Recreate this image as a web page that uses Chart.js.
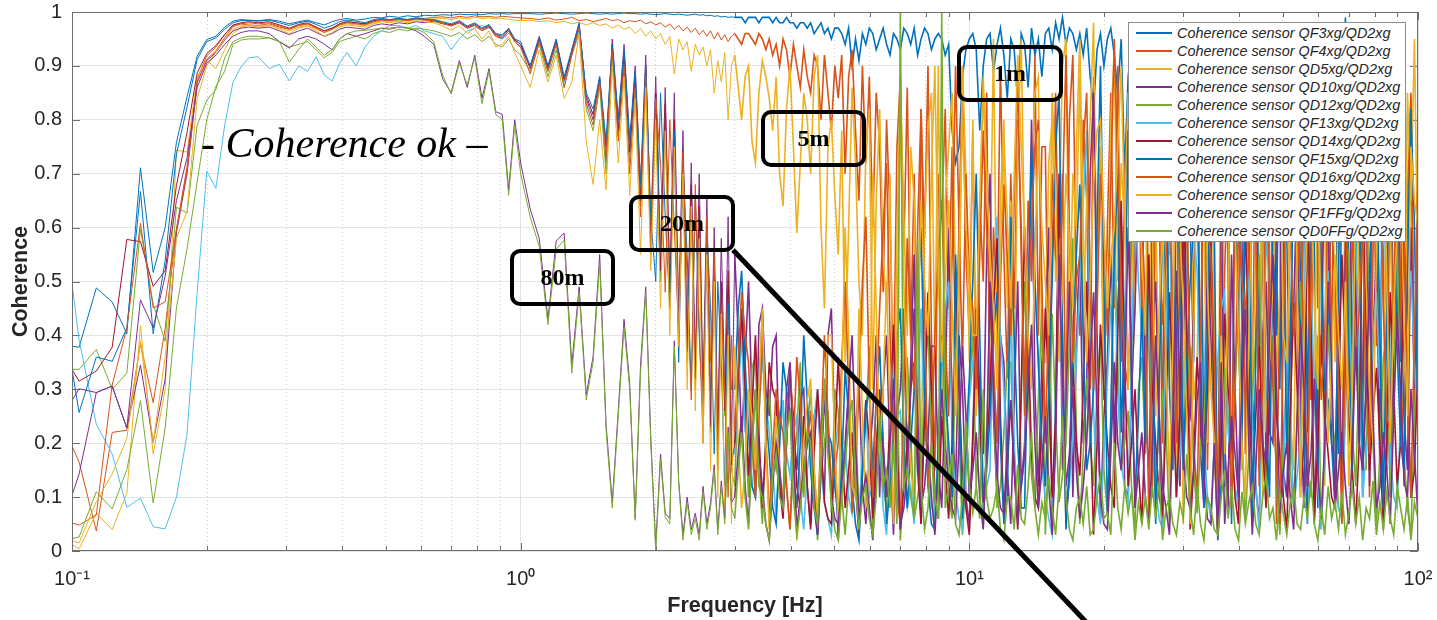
<!DOCTYPE html>
<html lang="en">

<head>
    <meta charset="UTF-8">
    <title>Coherence sensors vs QD2xg</title>
    <script src="https://cdn.jsdelivr.net/npm/chart.js"></script>
    <style>
        body { margin: 0; background: #fff; }
        .wrap { position: relative; width: 1437px; height: 620px; overflow: hidden; }
        #coherenceChart { position: absolute; left: 0; top: 0; }
        .legend-box {
            position: absolute; left: 1128px; top: 22px; width: 278px; height: 220px;
            box-sizing: border-box; border: 1px solid #8c8c8c; background: #fff; padding-top: 1px;
        }
        .legend-row { height: 18px; display: flex; align-items: center; }
        .legend-swatch { display: inline-block; width: 36px; height: 1.5px; margin-left: 7px; }
        .legend-text {
            margin-left: 5px; font: italic 14.4px "Liberation Sans", Arial, sans-serif;
            color: #262626; white-space: nowrap;
        }
        .tag {
            position: absolute; box-sizing: border-box; border: 4px solid #000; border-radius: 10px;
            display: flex; align-items: center; justify-content: center;
            font: bold 24px "Liberation Serif", "Times New Roman", serif; color: #000;
        }
        .ok-note {
            position: absolute; left: 201px; top: 119px; line-height: 42px; white-space: nowrap;
            font: italic 42px "Liberation Serif", "Times New Roman", serif; color: #000;
        }
        .pointer { position: absolute; left: 0; top: 0; }
    </style>
</head>

<body>
    <div class="wrap">
        <canvas id="coherenceChart" width="1437" height="620"></canvas>

        <!-- annotations -->
        <div class="ok-note">- Coherence ok –</div>
        <div class="tag" style="left:957px;top:45px;width:106px;height:57px;">1m</div>
        <div class="tag" style="left:761px;top:110px;width:105px;height:57px;">5m</div>
        <div class="tag" style="left:629px;top:195px;width:106px;height:57px;">20m</div>
        <div class="tag" style="left:510px;top:249px;width:105px;height:57px;">80m</div>
        <svg class="pointer" width="1437" height="620">
            <line x1="733" y1="250" x2="1088" y2="624" stroke="#000" stroke-width="5" />
        </svg>

        <div class="legend-box" id="legendBox"></div>
    </div>

    <script>
        // frequency samples [Hz]
        const freqLow = [0.1, 0.1037, 0.1133, 0.1229, 0.1325, 0.1421, 0.1517, 0.1613, 0.1709, 0.1805,
            0.1901, 0.1997, 0.2093, 0.2189, 0.2285, 0.2381, 0.2477];
        const freqMid = [0.26, 0.275, 0.29, 0.305, 0.32, 0.335, 0.35, 0.365, 0.38, 0.395,
            0.41, 0.43, 0.45, 0.47, 0.49, 0.51, 0.535, 0.56, 0.585, 0.61,
            0.64, 0.67, 0.7, 0.73, 0.76, 0.79, 0.82, 0.85, 0.88, 0.91, 0.94, 0.97, 1.0];
        const freqDrop = [1.05, 1.1, 1.15, 1.2, 1.25, 1.3, 1.35, 1.4, 1.45, 1.5,
            1.55, 1.6, 1.65, 1.7, 1.75, 1.8, 1.85, 1.9, 1.95, 2,
            2.05, 2.1, 2.15, 2.2, 2.25, 2.3, 2.35, 2.4, 2.45, 2.5,
            2.55, 2.6, 2.65, 2.7, 2.75, 2.8, 2.85, 2.9, 2.95];
        const freqHigh = [
            3, 3.054, 3.108, 3.164, 3.22, 3.278, 3.336, 3.396, 3.457, 3.519,
            3.581, 3.645, 3.71, 3.777, 3.844, 3.913, 3.983, 4.054, 4.126, 4.2,
            4.275, 4.352, 4.429, 4.509, 4.589, 4.671, 4.754, 4.84, 4.926, 5.014,
            5.103, 5.195, 5.287, 5.382, 5.478, 5.576, 5.675, 5.777, 5.88, 5.986,
            6.092, 6.201, 6.311, 6.425, 6.539, 6.657, 6.775, 6.897, 7.019, 7.145,
            7.272, 7.403, 7.534, 7.67, 7.806, 7.946, 8.087, 8.233, 8.379, 8.529,
            8.68, 8.836, 8.993, 9.155, 9.318, 9.485, 9.653, 9.826, 10, 10.18,
            10.36, 10.55, 10.74, 10.93, 11.12, 11.32, 11.53, 11.73, 11.94, 12.15,
            12.37, 12.59, 12.82, 13.05, 13.28, 13.52, 13.76, 14, 14.25, 14.51,
            14.77, 15.03, 15.3, 15.57, 15.85, 16.13, 16.42, 16.71, 17.01, 17.32,
            17.63, 17.94, 18.26, 18.59, 18.92, 19.26, 19.6, 19.95, 20.31, 20.67,
            21.04, 21.42, 21.8, 22.19, 22.59, 22.99, 23.4, 23.82, 24.24, 24.68,
            25.12, 25.57, 26.02, 26.49, 26.96, 27.44, 27.93, 28.43, 28.94, 29.46,
            29.98, 30.52, 31.06, 31.62, 32.18, 32.76, 33.34, 33.94, 34.54, 35.16,
            35.79, 36.43, 37.08, 37.74, 38.41, 39.1, 39.8, 40.51, 41.23, 41.97,
            42.72, 43.49, 44.26, 45.05, 45.85, 46.67, 47.5, 48.36, 49.22, 50.1,
            50.99, 51.91, 52.83, 53.78, 54.73, 55.71, 56.7, 57.72, 58.75, 59.8,
            60.86, 61.96, 63.06, 64.19, 65.33, 66.5, 67.68, 68.9, 70.12, 71.38,
            72.65, 73.96, 75.27, 76.62, 77.98, 79.38, 80.79, 82.24, 83.7, 85.21,
            86.72, 88.28, 89.84, 91.46, 93.08, 94.75, 96.43, 98.2, 100];
        const freq = [...freqLow, ...freqMid, ...freqDrop, ...freqHigh];

        const sensorNames = ['QF3xg', 'QF4xg', 'QD5xg', 'QD10xg', 'QD12xg', 'QF13xg',
            'QD14xg', 'QF15xg', 'QD16xg', 'QD18xg', 'QF1FFg', 'QD0FFg'];
        const seriesColors = ['#0072BD', '#D95319', '#EDB120', '#7E2F8E', '#77AC30', '#4DBEEE',
            '#A2142F', '#0072BD', '#D95319', '#EDB120', '#7E2F8E', '#77AC30'];

        // coherence per sensor in %, same order as freq
        const qf3xg = [
            38, 37.8, 48.8, 46.2, 40.3, 71.1, 51.7, 60, 75.8, 84.3, 91.8, 94.9, 95.5, 97.2, 98.3, 98.6, 98.5,
            98.4, 98.6, 98.3, 97.8, 98.2, 98.5, 98, 97.6, 98.2, 98.6, 98.8, 98.5, 98.7, 99, 98.9, 99.2, 99, 99.3, 99.1, 99.4,
            99.3, 99.5, 99.4, 99.6, 99.5, 99.6, 99.5, 99.7, 99.6, 99.7, 99.6, 99.7, 99.7,
            99.7, 99.6, 99.7, 99.8, 99.7, 99.6, 99.7, 99.8, 99.7, 99.6, 99.7, 99.6, 99.7, 99.8, 99.7, 99.7, 99.6, 99.7, 99.6, 99.5,
            99.6, 99.7, 99.6, 99.5, 99.6, 99.5, 99.4, 99.5, 99.6, 99.4, 99.5, 99.3, 99.4, 99.2, 99.3, 99.1, 99.2, 99, 99.1,
            99, 99, 99, 98, 99, 99, 99, 98, 99, 99,
            99, 98, 99, 98, 98, 99, 98, 98, 97, 98,
            98, 97, 98, 96, 97, 98, 96, 97, 95, 97,
            97, 96, 94, 97, 90, 95, 91, 96, 94, 97,
            96, 93, 95, 97, 94, 92, 96, 95, 93, 97,
            96, 94, 97, 92, 95, 97, 96, 93, 95, 96,
            95, 92, 94, 78, 72, 75, 88, 93, 95, 96,
            93, 78, 90, 95, 96, 89, 94, 97, 92, 84,
            95, 93, 83, 96, 94, 86, 97, 92, 95, 88,
            96, 97, 93, 98, 95, 99, 94, 97, 96, 93,
            96, 92, 97, 88, 82, 93, 96, 90, 95, 97,
            92, 85, 95, 70, 88, 93, 65, 90, 96, 82,
            88, 40, 92, 70, 20, 85, 55, 96, 30, 75,
            10, 90, 60, 35, 95, 80, 15, 70, 98, 45,
            3, 25, 92, 60, 5, 78, 96, 40, 88, 20,
            70, 95, 35, 85, 12, 65, 98, 50, 30, 90,
            60, 15, 88, 97, 45, 75, 22, 92, 55, 8,
            80, 96, 38, 68, 90, 18, 72, 99, 50, 28,
            94, 62, 10, 85, 42, 97, 70, 25, 88, 56,
            15, 90, 72, 35, 96, 58, 84, 30, 62
        ];
        const qf4xg = [
            19.5, 16.5, 3.7, 22, 22.4, 38.5, 27.5, 41.4, 59.7, 71.4, 87.6, 91.9, 93.5, 95.8, 97.5, 97.8, 97.6,
            97.5, 97.8, 97.2, 96.8, 97.5, 97.8, 97.2, 96.5, 97, 97.8, 98.2, 98, 97.8, 98.3, 98.6, 98.5, 98.8, 98.6, 98.9, 98.8,
            99, 99.1, 98.9, 99.2, 99, 99.3, 99.1, 99.2, 99, 99.2, 99.1, 99, 98.9,
            98.8, 98.6, 98.9, 98.5, 98.7, 99, 98.4, 98.6, 98.2, 98.5, 98.8, 98.4, 98.6, 98, 98.4, 98.2, 98.5, 97.8, 98.2, 97.6,
            98, 97.2, 97.8, 96.8, 97.5, 96.5, 97.2, 96.2, 97, 95.8, 96.6, 95.5, 96.5, 95, 96.2, 94.8, 95.8, 94.5, 95.5,
            96, 95, 94, 96, 96, 95, 94, 96, 95, 93,
            95, 92, 94, 90, 95, 93, 88, 94, 90, 86,
            93, 88, 85, 92, 90, 80, 92, 85, 78, 90,
            84, 92, 70, 88, 93, 78, 65, 90, 72, 88,
            60, 85, 75, 48, 80, 62, 30, 75, 88, 55,
            86, 40, 70, 25, 82, 58, 90, 40, 15, 70,
            62, 82, 45, 75, 35, 60, 90, 55, 40, 78,
            30, 65, 50, 85, 25, 60, 45, 90, 55, 32,
            70, 45, 80, 60, 28, 65, 50, 92, 40, 75,
            75, 30, 55, 85, 45, 70, 25, 80, 92, 50,
            40, 80, 65, 30, 88, 50, 75, 28, 60, 85,
            45, 90, 35, 70, 82, 25, 60, 78, 40, 88,
            40, 10, 68, 85, 20, 55, 95, 30, 72, 12,
            62, 85, 5, 45, 78, 28, 90, 15, 58, 35,
            4, 20, 52, 75, 8, 66, 40, 95, 18, 60,
            30, 82, 12, 58, 92, 35, 70, 5, 48, 85,
            22, 65, 90, 40, 10, 75, 55, 28, 88, 45,
            68, 15, 80, 35, 95, 50, 8, 72, 25, 60,
            45, 90, 20, 62, 10, 85, 38, 70, 55, 15,
            78, 30, 95, 48, 12, 66, 85, 22, 58
        ];
        const qd5xg = [
            1.2, 0.4, 7, 4, 10.7, 41.8, 18, 30, 74.4, 74, 88, 91.1, 89.5, 93, 96, 97.2, 97.5,
            97.2, 97.5, 97, 96.5, 97.2, 97.5, 96.8, 96.2, 96.8, 97.5, 97.8, 97.6, 97.5, 98, 98.3, 98.2, 98.5, 98.3, 98.6, 98.5,
            98.7, 98.8, 98.6, 98.9, 98.7, 99, 98.8, 98.9, 98.7, 98.8, 98.6, 98.5, 98.4,
            98.5, 98.2, 98.4, 98, 98.3, 97.8, 98.1, 97.6, 98, 97.5, 97.8, 97, 97.6, 96.8, 97.2, 96, 97, 95.5, 96.5, 95,
            96, 94, 95.5, 88.5, 95, 93, 94.5, 89, 94, 92, 93.5, 90, 93, 85, 91, 87, 92.5, 80, 90,
            92, 86, 80, 88, 90, 76, 72, 85, 91, 88,
            84, 78, 88, 70, 64, 82, 90, 75, 59, 72,
            85, 80, 70, 88, 92, 60, 45, 75, 80, 66,
            55, 78, 35, 60, 86, 72, 50, 40, 75, 82,
            30, 65, 82, 55, 45, 70, 20, 58, 88, 62,
            40, 75, 65, 28, 15, 60, 78, 85, 35, 90,
            30, 65, 75, 85, 50, 40, 90, 70, 35, 80,
            25, 60, 85, 70, 50, 95, 35, 65, 80, 45,
            65, 30, 75, 95, 55, 40, 70, 85, 88, 35,
            35, 72, 80, 50, 60, 90, 95, 40, 70, 60,
            88, 40, 65, 80, 98, 45, 75, 30, 35, 80,
            92, 50, 72, 60, 85, 30, 45, 90, 96, 65,
            40, 75, 70, 18, 95, 50, 30, 82, 10, 62,
            5, 58, 90, 28, 35, 70, 60, 20, 85, 45,
            2, 95, 20, 42, 95, 68, 40, 15, 70, 88,
            30, 55, 88, 10, 60, 92, 85, 30, 50, 72,
            88, 25, 15, 68, 60, 90, 95, 40, 25, 80,
            50, 12, 75, 92, 35, 65, 85, 55, 20, 70,
            92, 45, 60, 28, 80, 95, 70, 40, 15, 88,
            60, 30, 92, 75, 20, 85, 65, 95, 48
        ];
        const qd10xg = [
            10.3, 14.3, 29.4, 30.6, 22.8, 34.5, 20.2, 31.9, 59, 70, 87, 91, 92.5, 94.8, 96.5, 97, 97.2,
            97, 97.2, 96.5, 95.8, 96.5, 97, 96.2, 95.5, 96, 96.8, 97.2, 97, 96.8, 97.5, 97.8, 97.6, 98, 97.8, 98.2, 98,
            98.3, 97.8, 97.5, 98, 97, 97.5, 96.5, 97.2, 95.5, 95, 96.5, 94.5, 93.5,
            90, 95.5, 90, 95, 87, 93, 98, 84, 80, 88, 72, 95, 80, 94, 76, 90, 68, 92, 60, 88,
            55, 86, 50, 85, 45, 78, 40, 72, 35, 70, 30, 66, 28, 60, 22, 58, 30, 62, 20,
            55, 40, 20, 35, 50, 28, 12, 42, 45, 30,
            25, 38, 40, 15, 8, 30, 35, 22, 15, 28,
            30, 12, 5, 25, 28, 18, 10, 40, 45, 20,
            2, 15, 20, 30, 8, 22, 32, 12, 5, 18,
            25, 40, 10, 30, 40, 18, 3, 25, 30, 45,
            15, 35, 55, 20, 5, 28, 20, 38, 38, 15,
            8, 30, 60, 25, 12, 40, 30, 10, 5, 22,
            45, 30, 18, 55, 70, 25, 10, 40, 35, 15,
            5, 28, 50, 12, 20, 45, 80, 30, 12, 35,
            40, 60, 3, 22, 65, 15, 25, 50, 10, 38,
            55, 20, 30, 70, 85, 40, 6, 25, 35, 55,
            20, 45, 60, 12, 10, 30, 45, 70, 75, 25,
            15, 40, 50, 22, 5, 35, 70, 90, 30, 12,
            60, 28, 25, 45, 90, 18, 8, 55, 40, 20,
            3, 65, 20, 8, 55, 30, 10, 45, 75, 35,
            30, 12, 5, 40, 50, 22, 20, 60, 65, 15,
            10, 38, 45, 70, 25, 8, 80, 50, 5, 30,
            35, 75, 60, 20, 15, 45, 8, 55, 90, 28,
            50, 20, 30, 65, 12, 40, 55, 15, 85, 45,
            10, 35, 40, 70, 25, 15, 60, 30, 45
        ];
        const qd12xg = [
            33.7, 33.7, 37.4, 30, 33, 59.7, 45.8, 38.9, 63.8, 62.7, 79, 83.6, 85.6, 91.5, 94.5, 95.2, 95.5,
            95.5, 95.2, 94.5, 93.5, 94, 94.5, 93, 91.5, 92.5, 94.5, 95, 95.5, 95, 96, 96.5, 96.2, 96.8, 96.5, 97, 96.8,
            96.5, 96, 95.5, 96.2, 95, 95.8, 94.5, 95.5, 94, 93.5, 95, 93, 92,
            89, 94, 88, 93, 86, 92, 96, 82, 78, 86, 70, 92, 77, 90, 72, 86, 64, 88, 55, 82,
            50, 80, 46, 78, 40, 72, 35, 65, 30, 62, 25, 58, 22, 50, 18, 48, 25, 50, 15,
            12, 30, 42, 25, 10, 34, 36, 15, 5, 22,
            30, 18, 15, 25, 27, 12, 4, 16, 22, 35,
            10, 22, 30, 12, 2, 14, 20, 26, 7, 30,
            26, 10, 3, 12, 18, 25, 6, 15, 24, 38,
            4, 20, 28, 12, 8, 16, 20, 32, 2, 14,
            36, 22, 6, 10, 15, 30, 42, 20, 5, 16,
            24, 40, 10, 6, 38, 22, 3, 14, 30, 40,
            12, 25, 5, 20, 46, 30, 8, 12, 22, 35,
            35, 18, 6, 28, 50, 30, 14, 8, 28, 45,
            3, 20, 44, 25, 9, 14, 20, 38, 58, 22,
            5, 18, 32, 20, 12, 30, 40, 15, 7, 22,
            62, 35, 15, 20, 26, 12, 4, 30, 36, 18,
            48, 20, 9, 12, 30, 22, 5, 38, 52, 25,
            16, 30, 38, 15, 7, 20, 24, 40, 60, 18,
            4, 12, 34, 25, 13, 30, 45, 20, 6, 18,
            28, 40, 55, 22, 10, 30, 40, 12, 3, 20,
            32, 15, 8, 25, 50, 30, 15, 10, 28, 40,
            4, 18, 42, 25, 20, 8, 6, 30, 56, 22,
            12, 35, 30, 15, 48, 20, 5, 18, 36, 40,
            10, 28, 60, 22, 18, 8, 3, 25, 40
        ];
        const qf13xg = [
            49.5, 39.2, 23.5, 18, 8.1, 9.8, 4.5, 4.1, 10, 21.7, 48, 70.5, 67.3, 79, 87, 89.8, 91.5,
            91.7, 89.5, 90.3, 87.2, 90, 89, 91.7, 88.3, 87.2, 90.5, 92.5, 90, 93.5, 95.5, 96.5, 97.5, 97.5, 97, 97.5, 96.5,
            96, 95.5, 93, 95, 96.5, 97, 97.5, 97, 96, 95, 96, 95, 94,
            90, 94.5, 89, 94, 87, 92, 96.5, 83, 81, 87, 74, 93, 79, 90, 73, 87, 66, 86, 60, 84,
            52, 78, 50, 74, 42, 70, 38, 62, 33, 60, 28, 55, 24, 50, 20, 45, 28, 42, 18,
            18, 30, 40, 22, 30, 12, 10, 25, 36, 28,
            22, 15, 6, 20, 28, 18, 14, 22, 25, 10,
            4, 15, 20, 25, 30, 15, 9, 6, 3, 18,
            24, 12, 20, 10, 7, 18, 5, 20, 28, 10,
            12, 20, 22, 8, 3, 18, 35, 25, 26, 15,
            8, 12, 5, 30, 45, 22, 18, 8, 7, 20,
            33, 45, 50, 20, 11, 6, 4, 16, 28, 35,
            40, 20, 8, 12, 15, 45, 62, 40, 30, 12,
            45, 20, 6, 12, 17, 40, 70, 50, 35, 15,
            10, 6, 3, 30, 58, 25, 8, 12, 22, 35,
            50, 65, 78, 40, 26, 10, 5, 18, 32, 45,
            55, 30, 16, 12, 9, 35, 68, 50, 40, 20,
            46, 30, 12, 6, 4, 40, 62, 35, 10, 18,
            27, 50, 80, 60, 52, 30, 20, 10, 6, 20,
            36, 45, 48, 22, 17, 12, 8, 40, 66, 45,
            25, 12, 4, 30, 58, 50, 44, 28, 16, 10,
            40, 25, 8, 14, 20, 45, 72, 50, 30, 12,
            4, 20, 52, 30, 12, 8, 6, 25, 44, 30,
            60, 35, 10, 18, 25, 40, 48, 30, 76, 40,
            18, 10, 8, 25, 36, 45, 52, 35, 22
        ];
        const qd14xg = [
            33.7, 31.5, 33.4, 37.8, 57.8, 57.4, 49.1, 52, 67.8, 77.7, 88.7, 92.3, 93.8, 95.8, 97.6, 98, 98.2,
            98, 98.2, 97.6, 97, 97.7, 98, 97.2, 96.5, 97, 97.8, 98.2, 98, 97.8, 98.4, 98.6, 98.5, 98.7, 98.5, 98.8, 98.6,
            98.5, 98, 97.6, 98.2, 97.2, 97.8, 96.8, 97.5, 95.8, 95.5, 96.8, 94.8, 94,
            89.5, 95, 89.5, 94.5, 87.5, 92.5, 97.5, 84.5, 81, 87.5, 75, 94, 78, 92, 74, 88, 65, 90, 58, 85,
            52, 83, 48, 80, 42, 74, 37, 68, 32, 64, 27, 60, 23, 55, 20, 50, 26, 52, 16,
            20, 32, 45, 30, 14, 26, 40, 22, 8, 20,
            35, 30, 28, 12, 6, 20, 32, 25, 12, 8,
            25, 12, 4, 18, 30, 20, 9, 6, 5, 20,
            36, 20, 8, 15, 22, 12, 3, 14, 28, 20,
            6, 18, 30, 20, 10, 25, 42, 20, 4, 12,
            20, 30, 35, 15, 5, 25, 48, 30, 10, 6,
            25, 15, 6, 20, 52, 30, 14, 8, 3, 20,
            40, 25, 9, 18, 30, 45, 58, 25, 6, 15,
            28, 15, 4, 30, 60, 40, 18, 10, 8, 25,
            45, 30, 10, 25, 70, 40, 5, 15, 35, 20,
            14, 30, 50, 25, 3, 20, 42, 30, 20, 12,
            8, 40, 65, 35, 12, 20, 30, 15, 5, 25,
            55, 30, 20, 10, 7, 25, 48, 30, 10, 25,
            72, 40, 4, 15, 36, 25, 15, 30, 58, 25,
            6, 20, 44, 30, 22, 10, 5, 35, 62, 30,
            12, 25, 38, 20, 8, 30, 50, 25, 18, 10,
            4, 25, 46, 30, 12, 20, 66, 40, 6, 20,
            40, 25, 18, 10, 8, 30, 55, 35, 24, 15,
            5, 20, 70, 40, 15, 25, 34, 20, 4, 20,
            48, 30, 12, 20, 60, 30, 10, 15, 35
        ];
        const qf15xg = [
            33.7, 25.7, 36, 35.2, 41.4, 66.7, 40.3, 53.9, 73.6, 82.4, 91.2, 94.5, 95.2, 96.8, 98, 98.4, 98.4,
            98.3, 98.5, 98, 97.5, 98, 98.3, 97.7, 97, 97.5, 98.2, 98.5, 98.3, 98, 98.6, 98.8, 98.6, 98.8, 98.6, 98.9, 98.7,
            98.6, 98.2, 97.8, 98.4, 97.4, 98, 97, 97.7, 96, 95.8, 97, 95, 94.5,
            90, 95.2, 90, 94.8, 88, 93, 97.8, 85, 82, 88, 76, 94, 80, 93, 76, 89, 68, 90, 62, 50,
            85, 62, 45, 78, 35, 72, 55, 30, 66, 40, 25, 60, 45, 18, 50, 35, 12, 46, 30,
            30, 45, 52, 35, 22, 12, 10, 30, 44, 25,
            18, 8, 5, 20, 35, 30, 26, 15, 8, 20,
            40, 28, 15, 8, 3, 18, 30, 22, 20, 12,
            6, 15, 34, 25, 12, 5, 2, 15, 26, 30,
            15, 28, 38, 20, 5, 12, 22, 40, 45, 20,
            8, 20, 30, 45, 60, 30, 12, 5, 4, 20,
            40, 30, 20, 10, 55, 35, 6, 20, 32, 50,
            70, 40, 10, 15, 25, 40, 48, 20, 5, 10,
            62, 40, 20, 8, 8, 40, 75, 50, 35, 20,
            12, 30, 50, 75, 85, 40, 4, 15, 40, 55,
            68, 40, 15, 20, 30, 60, 90, 50, 7, 25,
            55, 70, 22, 40, 78, 30, 10, 25, 45, 20,
            88, 50, 5, 30, 60, 80, 30, 15, 95, 55,
            15, 35, 50, 60, 72, 30, 8, 40, 82, 60,
            2, 12, 12, 50, 92, 70, 40, 20, 66, 80,
            6, 35, 85, 60, 25, 10, 58, 40, 94, 60,
            18, 40, 70, 50, 42, 20, 5, 60, 90, 75,
            55, 30, 28, 20, 8, 50, 88, 70, 38, 15,
            60, 80, 15, 30, 48, 70, 75, 40, 8, 45,
            95, 70, 38, 20, 15, 50, 82, 60, 24
        ];
        const qd16xg = [
            5.2, 4.8, 6.7, 30.8, 41.4, 60.8, 45.1, 46.2, 59.6, 70.6, 86.8, 91.2, 92.8, 95.2, 97.3, 97.8, 98,
            97.8, 98, 97.4, 96.8, 97.5, 97.8, 97, 96.2, 96.8, 97.6, 98, 97.8, 97.6, 98.2, 98.5, 98.4, 98.6, 98.4, 98.7, 98.5,
            98.4, 97.9, 97.4, 98, 97, 97.6, 96.5, 97.3, 95.5, 95.2, 96.5, 94.5, 93.5,
            88.5, 94.5, 89, 94, 86, 92, 97, 83, 79, 87, 73, 93, 76, 90, 70, 86, 62, 88, 56, 84,
            72, 48, 80, 60, 40, 74, 50, 28, 68, 42, 20, 62, 35, 55, 15, 45, 30, 10, 40,
            22, 35, 48, 40, 35, 20, 10, 25, 40, 22,
            6, 18, 30, 25, 22, 12, 4, 20, 36, 28,
            15, 20, 26, 15, 5, 22, 40, 25, 12, 15,
            20, 35, 50, 30, 7, 15, 30, 50, 62, 30,
            10, 28, 45, 60, 72, 40, 20, 10, 5, 30,
            58, 40, 30, 60, 82, 45, 12, 20, 40, 55,
            65, 40, 25, 55, 90, 60, 35, 70, 50, 45,
            30, 55, 78, 60, 45, 35, 20, 50, 68, 55,
            40, 65, 88, 55, 25, 45, 60, 75, 80, 50,
            20, 45, 70, 55, 50, 65, 92, 60, 35, 50,
            55, 75, 85, 50, 30, 45, 70, 60, 40, 68,
            95, 70, 50, 35, 30, 55, 78, 60, 62, 45,
            6, 40, 84, 60, 42, 55, 70, 40, 20, 50,
            90, 60, 35, 20, 10, 40, 76, 60, 55, 35,
            3, 55, 93, 50, 8, 30, 60, 50, 45, 55,
            85, 60, 15, 30, 70, 50, 30, 15, 5, 40,
            80, 60, 40, 50, 62, 35, 12, 50, 90, 55,
            28, 40, 70, 60, 50, 30, 5, 40, 85, 60,
            35, 45, 60, 30, 18, 55, 92, 70, 45, 25,
            22, 50, 76, 65, 58, 30, 10, 40, 70
        ];
        const qd18xg = [
            1.9, 1.5, 9.2, 14.3, 20.9, 39, 20, 36, 58, 63, 84, 90, 92.5, 95, 96.8, 97.4, 97.6,
            97.4, 97.6, 96.8, 96, 97, 97.4, 96.5, 95.5, 96.2, 97.2, 97.6, 97.4, 97.2, 97.8, 98.2, 98, 98.3, 98, 98.4, 98.2,
            98, 97.4, 96.6, 97.5, 96, 97, 95, 96.5, 93.5, 94, 95.5, 92.5, 90,
            86, 93, 87, 92, 84, 87, 96, 76, 68, 80, 67, 90, 72, 88, 66, 84, 55, 86, 52, 80,
            45, 78, 40, 75, 38, 70, 30, 64, 26, 58, 20, 55, 15, 50, 10, 44, 6, 40, 5,
            38, 20, 8, 15, 30, 25, 15, 30, 45, 20,
            4, 12, 25, 15, 10, 20, 35, 20, 2, 10,
            20, 28, 32, 15, 6, 18, 28, 40, 40, 20,
            5, 30, 60, 40, 12, 10, 45, 25, 8, 15,
            70, 45, 18, 30, 50, 25, 5, 40, 82, 50,
            30, 15, 10, 40, 65, 50, 40, 70, 90, 50,
            35, 50, 65, 45, 25, 55, 80, 60, 50, 40,
            40, 65, 88, 70, 55, 45, 30, 55, 75, 62,
            45, 70, 92, 75, 60, 40, 30, 55, 78, 60,
            50, 40, 85, 68, 35, 50, 70, 58, 45, 75,
            95, 60, 35, 50, 68, 78, 80, 60, 45, 55,
            60, 75, 90, 62, 30, 50, 72, 65, 55, 40,
            90, 60, 25, 45, 60, 35, 12, 40, 80, 60,
            45, 25, 5, 40, 72, 80, 95, 50, 30, 20,
            4, 40, 18, 50, 85, 60, 40, 20, 10, 40,
            68, 80, 92, 60, 22, 35, 50, 70, 78, 40,
            35, 60, 90, 50, 10, 40, 62, 70, 45, 30,
            85, 60, 20, 35, 55, 40, 30, 50, 12, 30,
            65, 70, 95, 50, 30, 20, 55, 80, 85, 50,
            20, 45, 60, 70, 42, 25, 75, 65, 60
        ];
        const qf1ffg = [
            27.9, 30.1, 29.4, 30.6, 22.8, 46.6, 41.4, 51, 65, 73, 86, 90.5, 92, 94, 95.5, 96.2, 96.5,
            96.5, 96, 94.5, 93.3, 95, 95.5, 95, 94, 93, 95, 96, 95.5, 96, 96.5, 97, 96.8, 97.2, 97, 96.5, 95.5,
            94, 87.6, 85, 91, 86, 92, 84, 89.5, 81.5, 81, 67, 80, 72,
            63.5, 58, 43, 57.5, 59, 34.5, 49, 29, 36, 55, 23.5, 9, 26, 43, 31, 6, 34.5, 49, 21, 1,
            18, 7, 6, 39, 13, 3, 10, 4, 7, 3, 12, 5, 9, 16, 4, 13, 6, 23, 9,
            10, 18, 25, 12, 5, 20, 30, 18, 12, 5,
            2, 12, 20, 15, 8, 20, 35, 18, 4, 10,
            15, 20, 22, 10, 3, 15, 28, 20, 10, 6,
            5, 12, 18, 30, 40, 20, 6, 10, 14, 8,
            2, 14, 24, 18, 10, 20, 32, 15, 5, 8,
            15, 30, 45, 25, 8, 12, 20, 10, 3, 15,
            30, 20, 12, 8, 6, 20, 38, 25, 10, 15,
            22, 10, 4, 20, 50, 30, 14, 8, 7, 20,
            28, 15, 5, 12, 18, 30, 42, 20, 8, 15,
            25, 12, 3, 20, 55, 30, 12, 18, 30, 15,
            6, 12, 20, 35, 48, 25, 10, 5, 4, 18,
            35, 20, 15, 30, 60, 35, 8, 15, 22, 10,
            5, 18, 40, 25, 12, 8, 3, 25, 52, 30,
            18, 10, 8, 15, 28, 35, 14, 6, 5, 20,
            3, 35, 5, 15, 25, 18, 10, 30, 45, 20,
            3, 15, 30, 20, 16, 40, 55, 30, 7, 15,
            20, 10, 4, 25, 42, 30, 12, 18, 32, 15,
            6, 20, 50, 35, 8, 15, 22, 12, 5, 18,
            38, 20, 15, 30, 50, 25, 8, 12, 22, 15,
            5, 25, 44, 30, 13, 10, 30, 18, 6
        ];
        const qd0ffg = [
            2.3, 2.6, 11, 7.8, 15.1, 27.9, 8.9, 22.8, 45.1, 56.1, 68.5, 80, 86.2, 89, 94, 94.8, 95,
            95, 95.2, 94.5, 90.7, 93, 95, 93.5, 92, 93, 95, 96, 96.5, 96.6, 96.8, 97, 97, 97.2, 97, 96.8, 96.2,
            94.5, 88.3, 84.8, 90.5, 86.5, 91.5, 83, 89, 81, 80, 66, 79, 70,
            62, 56.5, 42, 56, 57.7, 33, 48, 28, 35, 53.4, 22.5, 8, 25, 41.5, 30, 5.7, 33, 48, 20, 0,
            17, 6.3, 5, 38, 12.5, 2, 9, 3, 6, 2, 11, 4, 8, 15, 3, 12, 5, 22, 8,
            6, 15, 22, 10, 4, 18, 30, 12, 10, 5,
            2, 14, 18, 10, 8, 22, 26, 10, 3, 8,
            14, 22, 20, 8, 5, 16, 32, 18, 9, 4,
            2, 10, 16, 24, 28, 12, 4, 10, 12, 6,
            3, 10, 25, 12, 15, 8, 20, 5, 100, 12,
            15, 10, 6, 58, 12, 4, 8, 20, 10, 6,
            100, 8, 12, 18, 5, 3, 10, 24, 12, 7,
            12, 6, 30, 10, 6, 8, 12, 4, 2, 10,
            10, 4, 16, 6, 5, 12, 22, 8, 3, 9,
            6, 14, 8, 3, 12, 25, 10, 4, 2, 8,
            10, 5, 12, 3, 4, 10, 14, 6, 7, 3,
            20, 8, 4, 12, 7, 11, 2, 9, 5, 10,
            4, 12, 6, 13, 2, 8, 10, 5, 3, 9,
            6, 18, 8, 3, 12, 5, 2, 10, 8, 4,
            3, 10, 15, 6, 12, 4, 2, 11, 5, 9,
            12, 5, 3, 10, 14, 6, 8, 2, 11, 7,
            3, 9, 12, 5, 4, 10, 6, 13, 5, 2,
            8, 3, 12, 6, 9, 4, 11, 3, 7, 12,
            5, 10, 2, 8, 6, 13, 3, 9, 4, 11,
            6, 3, 12, 8, 4, 10, 2, 9, 6
        ];
        const allSeries = [qf3xg, qf4xg, qd5xg, qd10xg, qd12xg, qf13xg, qd14xg, qf15xg, qd16xg, qd18xg, qf1ffg, qd0ffg];

        // axis ticks
        const xTickValues = [0.1, 0.2, 0.3, 0.4, 0.5, 0.6, 0.7, 0.8, 0.9, 1, 2, 3, 4, 5, 6, 7, 8, 9,
            10, 20, 30, 40, 50, 60, 70, 80, 90, 100];
        const decadeLabels = { 0.1: '10⁻¹', 1: '10⁰', 10: '10¹', 100: '10²' };

        allSeries.forEach((s, i) => {
            if (s.length !== freq.length) {
                throw new Error(sensorNames[i] + ' has ' + s.length + ' values, expected ' + freq.length);
            }
        });

        // legend (html)
        const legendBox = document.getElementById('legendBox');
        sensorNames.forEach((name, i) => {
            const row = document.createElement('div');
            row.className = 'legend-row';
            row.innerHTML = '<span class="legend-swatch" style="background:' + seriesColors[i] + '"></span>' +
                '<span class="legend-text">Coherence sensor ' + name + '/QD2xg</span>';
            legendBox.appendChild(row);
        });

        const axisColor = '#6e6e6e';
        const tickFont = { family: '"Liberation Sans", Arial, sans-serif', size: 20 };
        const titleFont = { family: '"Liberation Sans", Arial, sans-serif', size: 21.5, weight: 'bold' };

        // matlab-like box with inward ticks
        const matlabAxes = {
            id: 'matlabAxes',
            beforeDatasetsDraw(chart) {
                const { ctx, chartArea: a, scales: { x, y } } = chart;
                ctx.save();
                ctx.strokeStyle = axisColor;
                ctx.lineWidth = 1;
                ctx.beginPath();
                x.ticks.forEach(t => {
                    const px = Math.round(x.getPixelForValue(t.value)) + 0.5;
                    const len = decadeLabels[t.value] ? 8 : 5;
                    ctx.moveTo(px, a.bottom); ctx.lineTo(px, a.bottom - len);
                    ctx.moveTo(px, a.top); ctx.lineTo(px, a.top + len);
                });
                y.ticks.forEach(t => {
                    const py = Math.round(y.getPixelForValue(t.value)) + 0.5;
                    ctx.moveTo(a.left, py); ctx.lineTo(a.left + 8, py);
                    ctx.moveTo(a.right, py); ctx.lineTo(a.right - 8, py);
                });
                ctx.stroke();
                ctx.restore();
            },
            afterDatasetsDraw(chart) {
                const { ctx, chartArea: a } = chart;
                ctx.save();
                ctx.strokeStyle = axisColor;
                ctx.lineWidth = 1;
                ctx.strokeRect(Math.round(a.left) + 0.5, Math.round(a.top) + 0.5,
                    Math.round(a.right - a.left) - 1, Math.round(a.bottom - a.top) - 1);
                ctx.restore();
            }
        };

        // the noisy band above 3 Hz is drawn a little heavier so it reads as dense as the original
        const datasets = allSeries.map((values, i) => ({
            label: 'Coherence sensor ' + sensorNames[i] + '/QD2xg',
            data: freq.map((f, k) => ({ x: f, y: values[k] / 100 })),
            borderColor: seriesColors[i],
            borderWidth: 1,
            segment: { borderWidth: ctx => ctx.p0.parsed.x >= 3 ? 1.6 : 1 },
            pointRadius: 0,
            tension: 0,
            fill: false,
            order: allSeries.length - i   // later sensors on top, like matlab
        }));

        new Chart(document.getElementById('coherenceChart'), {
            type: 'line',
            data: { datasets },
            options: {
                responsive: false,
                animation: false,
                events: [],
                parsing: false,
                layout: { padding: { top: 12, right: 19, left: 0, bottom: 0 } },
                plugins: { legend: { display: false }, tooltip: { enabled: false } },
                scales: {
                    x: {
                        type: 'logarithmic',
                        min: 0.1,
                        max: 100,
                        afterBuildTicks: scale => {
                            scale.ticks = xTickValues.map(v => ({ value: v, major: !!decadeLabels[v] }));
                        },
                        afterFit: scale => {
                            scale.height = 69;
                            scale.paddingLeft = 0;
                            scale.paddingRight = 0;
                        },
                        ticks: {
                            autoSkip: false,
                            maxRotation: 0,
                            padding: 16,
                            color: '#262626',
                            font: tickFont,
                            callback: v => decadeLabels[v] || ''
                        },
                        grid: {
                            drawTicks: false,
                            color: ctx => (ctx.tick && decadeLabels[ctx.tick.value]) ? '#e2e2e2' : '#cfcfcf'
                        },
                        border: {
                            display: false,
                            dash: ctx => (ctx.tick && decadeLabels[ctx.tick.value]) ? [] : [1, 3]
                        },
                        title: {
                            display: true,
                            text: 'Frequency [Hz]',
                            color: '#262626',
                            font: titleFont,
                            padding: { top: 0, bottom: 1 }
                        }
                    },
                    y: {
                        min: 0,
                        max: 1,
                        afterFit: scale => {
                            scale.width = 72;
                            scale.paddingTop = 0;
                            scale.paddingBottom = 0;
                        },
                        ticks: {
                            stepSize: 0.1,
                            padding: 10,
                            color: '#262626',
                            font: tickFont,
                            callback: v => String(+v.toFixed(1))
                        },
                        grid: { drawTicks: false, color: '#e4e4e4' },
                        border: { display: false },
                        title: {
                            display: true,
                            text: 'Coherence',
                            color: '#262626',
                            font: titleFont,
                            padding: { top: 8, bottom: 0 }
                        }
                    }
                }
            },
            plugins: [matlabAxes]
        });
    </script>
</body>

</html>
